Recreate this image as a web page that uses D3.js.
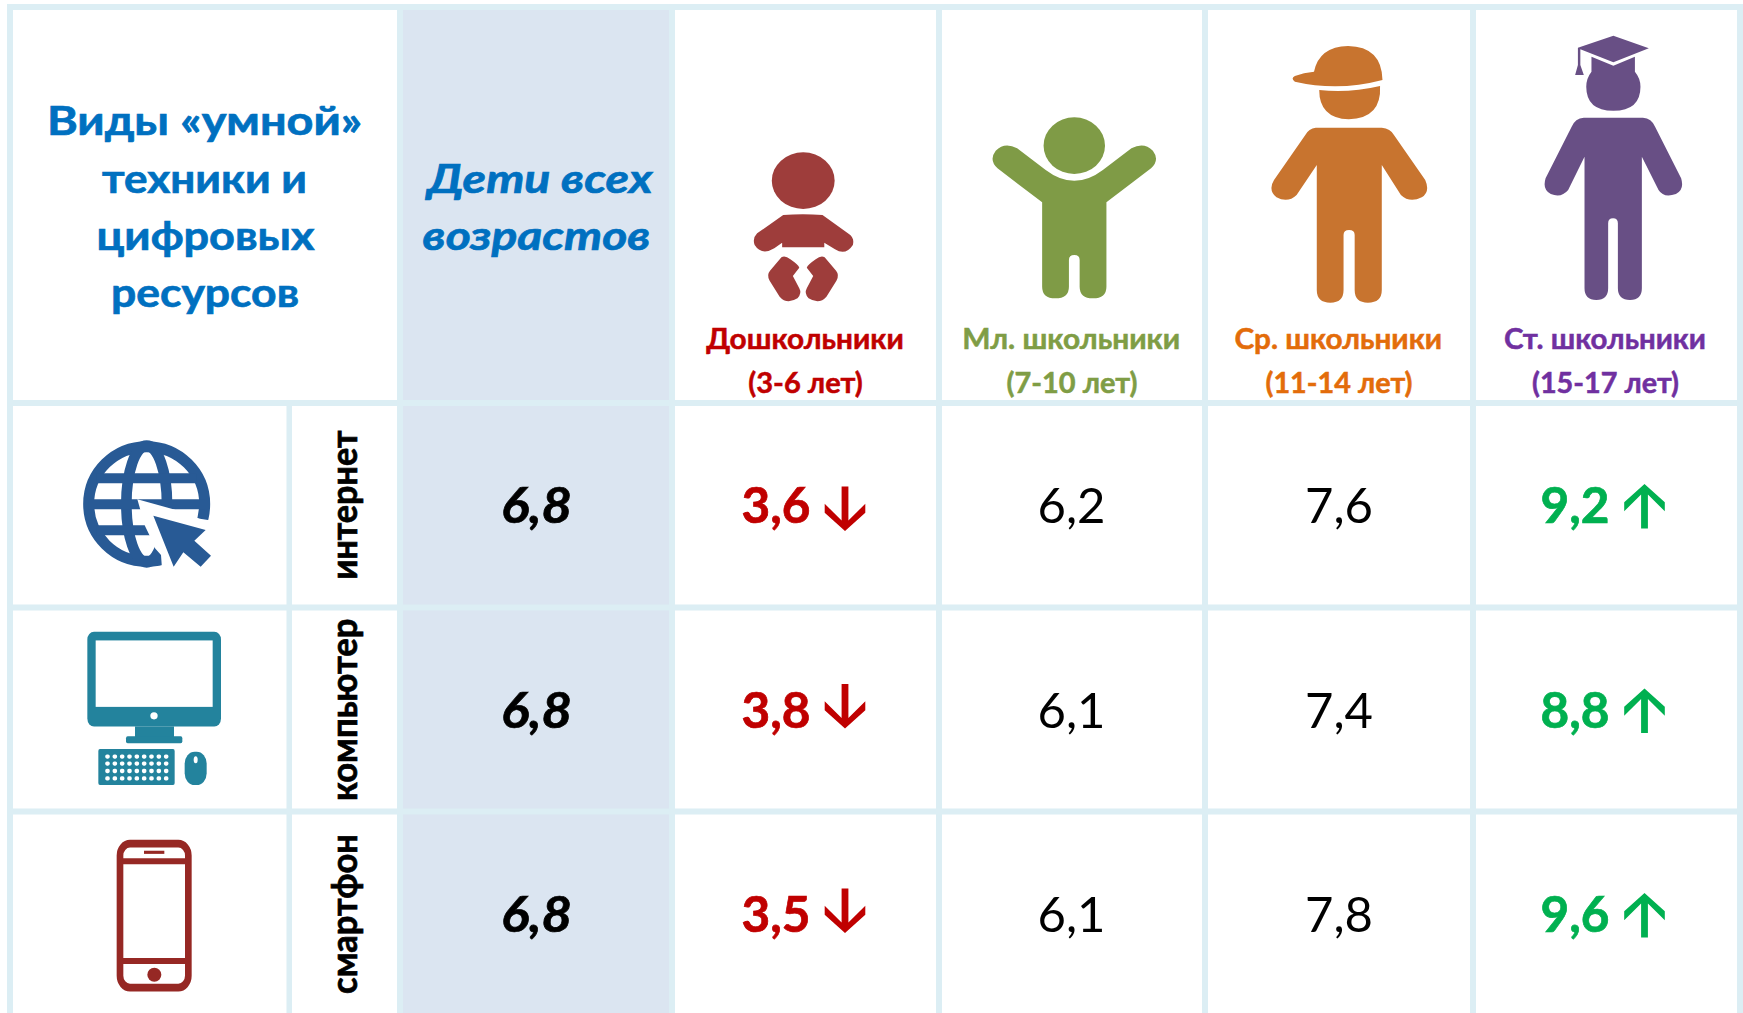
<!DOCTYPE html>
<html lang="ru"><head><meta charset="utf-8">
<style>html,body{margin:0;background:#fff;overflow:hidden}svg{display:block}text{font-family:Lato,Carlito,"Open Sans",sans-serif}</style>
<script src="https://cdn.jsdelivr.net/npm/d3@7"></script></head><body>
<svg id="c" width="1743" height="1013"></svg>
<script>
// ---- data ----
const techs = ["интернет","компьютер","смартфон"];
const groups = ["all","pre","jun","mid","sen"];
const groupNames = ["Дошкольники","Мл. школьники","Ср. школьники","Ст. школьники"];
const groupAges = ["(3-6 лет)","(7-10 лет)","(11-14 лет)","(15-17 лет)"];
const allAges = [6.8,6.8,6.8];
const preschool = [3.6,3.8,3.5];
const junior = [6.2,6.1,6.1];
const middle = [7.6,7.4,7.8];
const senior = [9.2,8.8,9.6];
const series = [allAges,preschool,junior,middle,senior];
const trend = [0,-1,0,0,1];
const titleLines = ["Виды «умной»","техники и","цифровых","ресурсов"];
const allLines = ["Дети всех","возрастов"];

// ---- layout ----
const svg = d3.select("#c");
const LINE="#dceef4", BAND="#dbe5f1", BLUE="#0070c0";
const groupColors=["#c00000","#7f9d45","#e36c0a","#7030a0"];
const valueColors=["#000","#c00000","#000","#000","#00b050"];
const x = d3.scaleOrdinal().domain(groups).range([536.5,776,1071.5,1339,1575]);
const y = d3.scaleBand().domain(techs).range([406,1019.5]);
const arrowX = d3.scaleOrdinal().domain(groups).range([0,845,0,0,1644.5]);
const redArrowShift=[8,1,1];
const colEdges=[7,397,669,936,1202,1470,1737];
const rowEdges=[4,400,604.5,808.5];

svg.append("rect").attr("x",403).attr("y",10).attr("width",266).attr("height",1003).attr("fill",BAND);
svg.selectAll(".v").data(colEdges).join("rect").attr("x",d=>d).attr("y",4).attr("width",6).attr("height",1009).attr("fill",LINE);
svg.append("rect").attr("x",286.5).attr("y",400).attr("width",5.5).attr("height",613).attr("fill",LINE);
svg.selectAll(".h").data(rowEdges).join("rect").attr("x",7).attr("y",d=>d).attr("width",1736).attr("height",6).attr("fill",LINE);

function label(t,cx,base,w,size,fill,opt={}){
  const s=svg.append("text").text(t).attr("x",cx).attr("y",base).attr("text-anchor","middle")
    .attr("font-size",size).attr("fill",fill).attr("font-weight",opt.weight||700);
  if(opt.italic)s.attr("font-style","italic");
  if(opt.bold)s.attr("stroke",fill).attr("stroke-width",opt.bold);
  if(w)s.attr("textLength",w).attr("lengthAdjust","spacingAndGlyphs");
  if(opt.rotate)s.attr("transform",`rotate(-90 ${cx} ${base})`);
  return s;
}
// title
[[204.5,315],[204.5,205],[205.5,218],[205,188]].forEach((p,i)=>label(titleLines[i],p[0],[135,193,250,307][i],p[1],40,BLUE,{bold:.7}));
[[540,225],[536.5,228]].forEach((p,i)=>label(allLines[i],p[0],[193,250][i],p[1],40,BLUE,{italic:true,bold:.7}));
// group heads
[[805,197.5],[1071.3,218],[1338.3,207.6],[1605,202]].forEach((p,i)=>label(groupNames[i],p[0],348.5,p[1],28,groupColors[i],{bold:.5}));
[[805.5,114.5],[1072,131],[1339,147],[1605.5,147]].forEach((p,i)=>label(groupAges[i],p[0],392.5,p[1],28,groupColors[i],{bold:.5}));
// row heads
[[505,149],[709.8,182.5],[914,160]].forEach((p,i)=>label(techs[i],357,p[0],p[1],37,"#000",{rotate:true,bold:.7}));

// values
const fmt=v=>d3.format(".1f")(v).replace(".",",");
groups.forEach((g,gi)=>{
  techs.forEach((t,ti)=>{
    const base=y(t)+117;
    const v=series[gi][ti];
    const emph=gi===0||trend[gi]!==0;
    label(fmt(v),x(g),base,gi===0?71:(trend[gi]?69:68),49,valueColors[gi],
      {weight:emph?700:400,italic:gi===0,bold:emph?.7:0});
    if(trend[gi]){
      const ax=arrowX(g), up=trend[gi]>0;
      const tipY=up?base-39:base+redArrowShift[ti];
      const dir=up?1:-1;               // +1: the arrow body runs down from its tip
      const pts=[[0,0],[20.3,18.3],[20.3,27.3],[3.4,10.4],[3.4,44.5],[-3.4,44.5],[-3.4,10.4],[-20.3,27.3],[-20.3,18.3]];
      const px=d3.scaleLinear().domain([0,1]).range([ax,ax+1]);
      const py=d3.scaleLinear().domain([0,1]).range([tipY,tipY+dir]);
      svg.append("path").attr("fill",valueColors[gi])
        .attr("d",d3.line().x(p=>px(p[0])).y(p=>py(p[1])).curve(d3.curveLinearClosed)(pts));
    }
  });
});

// ---- icons (drawn in a local design space of each crop) ----
const ig=(tx,ty,sx,sy,fill)=>svg.append("g").attr("transform",`translate(${tx},${ty}) scale(${sx},${sy})`).attr("fill",fill);
// baby
let g=ig(660,0,1/2.8,1/3,"#9e3d3b");
g.append("ellipse").attr("cx",401).attr("cy",542).attr("rx",88).attr("ry",85);
g.append("path").attr("d","M345,645 L272,700 Q258,715 265,735 Q285,768 320,745 L342,728 L342,742 L460,742 L460,728 L490,748 Q520,768 540,735 Q545,715 530,703 L455,645 Q400,640 345,645 Z");
const foot="M340,772 L308,812 Q298,825 307,842 L335,890 Q355,915 385,895 Q398,880 390,865 L372,828 L390,803 Q388,795 365,778 Q350,765 340,772 Z";
g.append("path").attr("d",foot);
g.append("path").attr("d",foot).attr("transform","translate(801,0) scale(-1,1)");
// child
g=ig(660,0,1/2.8,1/3,"#7f9b46");
g.append("ellipse").attr("cx",1160).attr("cy",437).attr("rx",86).attr("ry",85);
g.append("path").attr("d","M1070,607 L945,505 Q920,480 940,452 Q965,425 1000,445 L1080,510 Q1160,575 1240,510 L1320,445 Q1355,425 1380,452 Q1400,480 1375,505 L1250,607 L1250,860 Q1250,895 1212,895 Q1175,895 1175,860 L1175,780 Q1175,765 1160,765 Q1145,765 1145,780 L1145,860 Q1145,895 1107,895 Q1070,895 1070,860 Z");
// teen
g=ig(1199.3,0,1/2.877,1/3,"#c8742f");
g.append("path").attr("d","M330,215 Q345,140 428,138 Q525,140 527,240 Q400,275 275,245 Q262,235 275,228 Q300,218 330,215 Z");
g.append("path").attr("d","M345,270 Q430,280 520,258 Q525,355 430,358 Q345,355 345,270 Z");
g.append("path").attr("d","M335,383 L525,383 Q550,385 560,405 L650,540 Q665,575 640,592 Q605,610 580,585 L525,495 L525,870 Q525,908 485,908 Q447,908 447,870 L447,705 Q447,690 431,690 Q415,690 415,705 L415,870 Q415,908 377,908 Q338,908 338,870 L338,495 L280,585 Q255,610 222,592 Q197,570 215,540 L305,405 Q315,385 335,383 Z");
// graduate
g=ig(1198,0,1/2.877,1/3,"#684f85");
g.append("path").attr("d","M1195,107 L1297,145 L1195,187 L1100,148 L1100,195 L1110,225 L1085,225 L1093,195 L1093,143 Z");
g.append("path").attr("d","M1132,170 L1195,197 L1257,170 L1257,215 Q1273,235 1273,260 Q1273,332 1195,332 Q1117,332 1117,260 Q1117,235 1132,215 Z");
g.append("path").attr("d","M1110,353 L1280,353 Q1305,355 1315,380 L1390,535 Q1400,570 1375,582 Q1340,595 1325,570 L1277,470 L1277,865 Q1277,900 1243,900 Q1208,900 1208,865 L1208,670 Q1208,655 1194,655 Q1180,655 1180,670 L1180,865 Q1180,900 1146,900 Q1112,900 1112,865 L1112,470 L1065,570 Q1045,595 1015,582 Q990,570 1000,535 L1075,380 Q1085,355 1110,353 Z");
// globe
const sy=1/2.558;
g=ig(60,420,1/3,1/3,"none");
const GL="#285a95";
g.append("ellipse").attr("cx",260).attr("cy",252).attr("rx",174).attr("ry",172).attr("stroke",GL).attr("stroke-width",33);
g.append("ellipse").attr("cx",260).attr("cy",252).attr("rx",61).attr("ry",175).attr("stroke",GL).attr("stroke-width",32);
[[175,110,410],[253,85,435],[331,110,270]].forEach(l=>g.append("line").attr("x1",l[1]).attr("x2",l[2]).attr("y1",l[0]).attr("y2",l[0]).attr("stroke",GL).attr("stroke-width",30));
g.append("path").attr("d","M232,238 L340,268 L420,296 L458,302 L470,460 L307,460 L303,405 L285,385 L268,345 L255,318 Z").attr("fill","#fff");
g.append("path").attr("d","M280,287 L437,330 L403,362 L453,407 L422,440 L370,397 L341,440 Z").attr("fill",GL);
// monitor
g=ig(0,400,1/3,sy,"#23839d");
g.append("rect").attr("x",262).attr("y",593).attr("width",401).attr("height",242).attr("rx",20);
g.append("rect").attr("x",287).attr("y",615).attr("width",351).attr("height",170).attr("fill","#fff");
g.append("ellipse").attr("cx",462).attr("cy",808).attr("rx",11).attr("ry",9).attr("fill","#fff");
g.append("rect").attr("x",405).attr("y",835).attr("width",117).attr("height",28);
g.append("rect").attr("x",378).attr("y",860).attr("width",169).attr("height",18).attr("rx",5);
g.append("rect").attr("x",295).attr("y",893).attr("width",229).attr("height",92).attr("rx",5);
[912,930,949,968].forEach(k=>g.append("line").attr("x1",321).attr("x2",500).attr("y1",k).attr("y2",k)
  .attr("stroke","#fff").attr("stroke-width",11).attr("stroke-linecap","round").attr("stroke-dasharray","3 19"));
g.append("rect").attr("x",554).attr("y",900).attr("width",66).attr("height",85).attr("rx",30);
g.append("ellipse").attr("cx",587).attr("cy",920).attr("rx",6).attr("ry",9).attr("fill","#fff");
// phone
g=ig(0,400,1/3,sy,"none");
const PH="#962824";
g.append("rect").attr("x",360).attr("y",1135).attr("width",205).attr("height",368).attr("rx",30).attr("stroke",PH).attr("stroke-width",20);
[1180,1435].forEach(k=>g.append("line").attr("x1",360).attr("x2",565).attr("y1",k).attr("y2",k).attr("stroke",PH).attr("stroke-width",15));
g.append("rect").attr("x",432).attr("y",1153).attr("width",61).attr("height",8).attr("fill",PH);
g.append("ellipse").attr("cx",463).attr("cy",1470).attr("rx",21).attr("ry",18).attr("fill",PH);
</script></body></html>
